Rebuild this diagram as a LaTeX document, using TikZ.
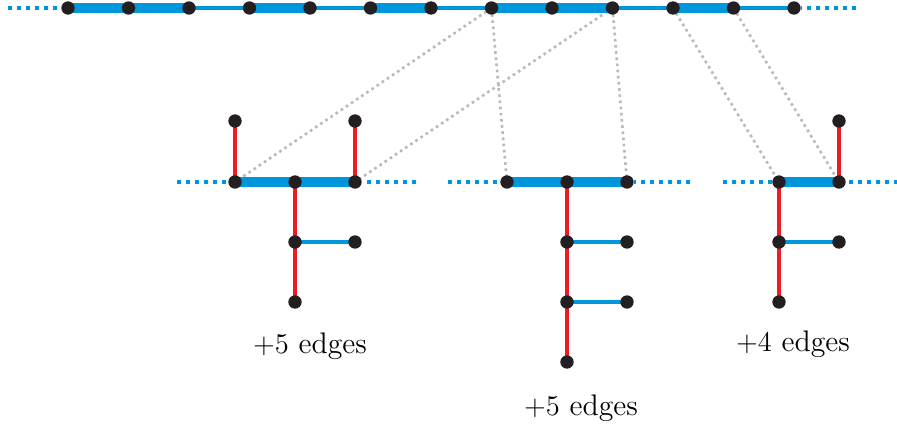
\documentclass[tikz,border=0pt]{standalone}
\usetikzlibrary{backgrounds}
\definecolor{lblue}{RGB}{0,150,219}
\definecolor{lred}{RGB}{237,28,36}
\definecolor{ldot}{RGB}{35,31,32}
\definecolor{lgrey}{RGB}{185,185,185}
\begin{document}
\begin{tikzpicture}[x=0.42pt,y=-0.42pt,
 vtx/.style={circle,fill=ldot,inner sep=0pt,minimum size=5.6pt},
 thickb/.style={lblue,line width=3.9pt},
 thinb/.style={lblue,line width=1.7pt},
 rededge/.style={lred,line width=1.7pt},
 bdots/.style={lblue,line width=1.7pt,dash pattern=on 1.7pt off 2.1pt},
 gdots/.style={lgrey,line width=1.1pt,dash pattern=on 1.1pt off 1.5pt},
 lbl/.style={font=\fontsize{12.5}{15}\selectfont,inner sep=0pt}]
\useasboundingbox (0,0) rectangle (897,429);
% top row
\foreach \i in {1,...,13}{
  \node[vtx] (t\i) at ({68+60.5*(\i-1)},8) {};
}
\coordinate (tl) at (8,8);
\coordinate (tr) at (856,8);
% left group
\node[vtx] (a1) at (235,182) {};
\node[vtx] (a2) at (295,182) {};
\node[vtx] (a3) at (355,182) {};
\node[vtx] (a4) at (235,121) {};
\node[vtx] (a5) at (355,121) {};
\node[vtx] (a6) at (295,242) {};
\node[vtx] (a7) at (355,242) {};
\node[vtx] (a8) at (295,302) {};
\coordinate (al) at (177,182);
\coordinate (ar) at (416,182);
% middle group
\node[vtx] (b1) at (507,182) {};
\node[vtx] (b2) at (567,182) {};
\node[vtx] (b3) at (627,182) {};
\node[vtx] (b4) at (567,242) {};
\node[vtx] (b5) at (627,242) {};
\node[vtx] (b6) at (567,302) {};
\node[vtx] (b7) at (627,302) {};
\node[vtx] (b8) at (567,362) {};
\coordinate (bl) at (448,182);
\coordinate (br) at (690,182);
% right group
\node[vtx] (c1) at (779,182) {};
\node[vtx] (c2) at (839,182) {};
\node[vtx] (c3) at (839,121) {};
\node[vtx] (c4) at (779,242) {};
\node[vtx] (c5) at (839,242) {};
\node[vtx] (c6) at (779,302) {};
\coordinate (cl) at (723,182);
\coordinate (cr) at (898,182);
% labels
\node[lbl] (la) at (310,346) {$+5$ edges};
\node[lbl] (lb) at (581,408) {$+5$ edges};
\node[lbl] (lc) at (793,344) {$+4$ edges};
\begin{scope}[on background layer]
% grey correspondences
\draw[gdots] (t8.center) -- (a1.center);
\draw[gdots] (t10.center) -- (a3.center);
\draw[gdots] (t8.center) -- (b1.center);
\draw[gdots] (t10.center) -- (b3.center);
\draw[gdots] (t11.center) -- (c1.center);
\draw[gdots] (t12.center) -- (c2.center);
% top row
\draw[bdots] (tl) -- (t1);
\draw[bdots] (tr) -- (t13);
\draw[thickb] (t1.center) -- (t2.center) -- (t3.center);
\draw[thinb] (t3.center) -- (t4.center);
\draw[thickb] (t4.center) -- (t5.center);
\draw[thinb] (t5.center) -- (t6.center);
\draw[thickb] (t6.center) -- (t7.center);
\draw[thinb] (t7.center) -- (t8.center);
\draw[thickb] (t8.center) -- (t9.center) -- (t10.center);
\draw[thinb] (t10.center) -- (t11.center);
\draw[thickb] (t11.center) -- (t12.center);
\draw[thinb] (t12.center) -- (t13.center);
% left group
\draw[bdots] (al) -- (a1);
\draw[bdots] (ar) -- (a3);
\draw[thickb] (a1.center) -- (a2.center) -- (a3.center);
\draw[rededge] (a1.center) -- (a4.center);
\draw[rededge] (a3.center) -- (a5.center);
\draw[rededge] (a2.center) -- (a6.center) -- (a8.center);
\draw[thinb] (a6.center) -- (a7.center);
% middle group
\draw[bdots] (bl) -- (b1);
\draw[bdots] (br) -- (b3);
\draw[thickb] (b1.center) -- (b2.center) -- (b3.center);
\draw[rededge] (b2.center) -- (b4.center) -- (b6.center) -- (b8.center);
\draw[thinb] (b4.center) -- (b5.center);
\draw[thinb] (b6.center) -- (b7.center);
% right group
\draw[bdots] (cl) -- (c1);
\draw[bdots] (cr) -- (c2);
\draw[thickb] (c1.center) -- (c2.center);
\draw[rededge] (c2.center) -- (c3.center);
\draw[rededge] (c1.center) -- (c4.center) -- (c6.center);
\draw[thinb] (c4.center) -- (c5.center);
\end{scope}
\end{tikzpicture}
\end{document}
